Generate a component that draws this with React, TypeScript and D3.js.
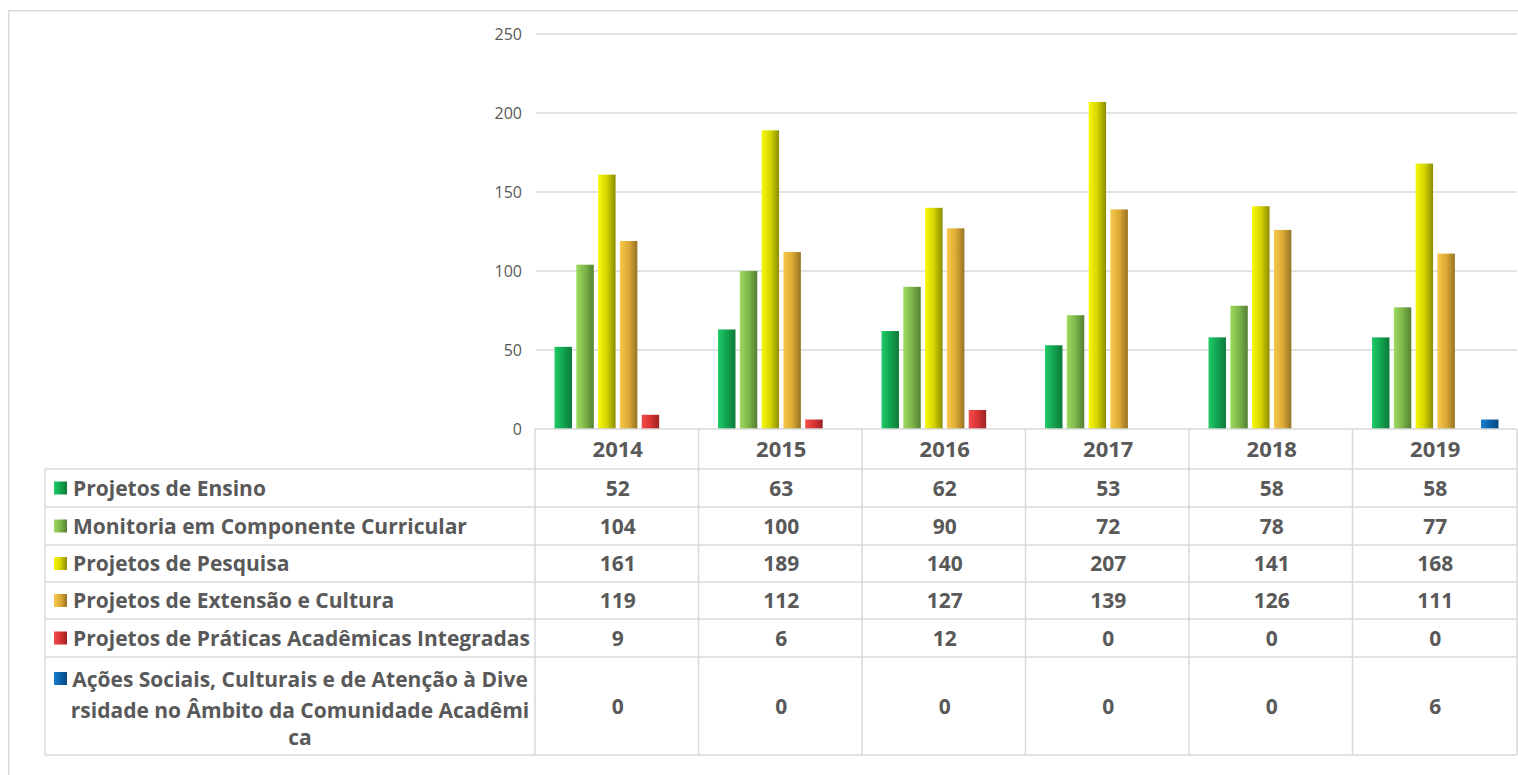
import React from "react";
import * as d3 from "d3";

// Anos e séries
const years = ["2014", "2015", "2016", "2017", "2018", "2019"];
const seriesNames = [
  "Projetos de Ensino",
  "Monitoria em Componente Curricular",
  "Projetos de Pesquisa",
  "Projetos de Extensão e Cultura",
  "Projetos de Práticas Acadêmicas Integradas",
  "Ações Sociais, Culturais e de Atenção à Diversidade no Âmbito da Comunidade Acadêmica",
];
const ensino = [52, 63, 62, 53, 58, 58];
const monitoria = [104, 100, 90, 72, 78, 77];
const pesquisa = [161, 189, 140, 207, 141, 168];
const extensao = [119, 112, 127, 139, 126, 111];
const praticas = [9, 6, 12, 0, 0, 0];
const acoes = [0, 0, 0, 0, 0, 6];
const yTicks = [0, 50, 100, 150, 200, 250];

// Linhas do rótulo da última série (quebra automática da célula)
const lastLabelLines = [
  "Ações Sociais, Culturais e de Atenção à Dive",
  "rsidade no Âmbito da Comunidade Acadêmi",
  "ca",
];

const seriesValues = [ensino, monitoria, pesquisa, extensao, praticas, acoes];
const gradients = [
  ["#1fcb66", "#12a34f", "#0d7a3b"],
  ["#9edb5f", "#7cb548", "#557f33"],
  ["#f8f80a", "#d4d400", "#8c8c00"],
  ["#f7c84a", "#ddaa35", "#977322"],
  ["#f44c4c", "#d93434", "#9c2222"],
  ["#1a7fd0", "#0a62aa", "#064680"],
];

const GRID = "#d9d9d9";
const TEXT = "#595959";
const FONT = "'Open Sans', Lato, sans-serif";

export default function App() {
  const W = 1518;
  const H = 775;
  const plotLeft = 536;
  const plotRight = 1517;
  const tableLeft = 45;

  const y = d3.scaleLinear().domain([0, 250]).range([429, 34]);
  const x = d3.scaleBand<string>().domain(years).range([plotLeft, plotRight]).padding(0);
  const xi = d3
    .scaleBand<number>()
    .domain(d3.range(seriesNames.length))
    .range([0, x.bandwidth()])
    .paddingInner(0.2)
    .paddingOuter(0.85);

  const headerTop = y(0);
  const rowBounds = [469, 507, 545, 582, 619, 657, 755];
  const cellFont = 21;

  return (
    <svg
      width={W}
      height={H}
      style={{ position: "absolute", left: 0, top: 0, background: "#fff" }}
      fontFamily={FONT}
    >
      <defs>
        {gradients.map((g, i) => (
          <linearGradient key={i} id={`grad${i}`} x1="0" x2="1" y1="0" y2="0">
            <stop offset="0%" stopColor={g[0]} />
            <stop offset="50%" stopColor={g[1]} />
            <stop offset="100%" stopColor={g[2]} />
          </linearGradient>
        ))}
      </defs>

      {/* moldura externa */}
      <rect x={8.75} y={10.75} width={W + 20} height={H + 20} fill="none" stroke={GRID} strokeWidth={1.5} />

      {/* grade horizontal e rótulos do eixo Y */}
      {yTicks.map((t) => (
        <g key={t}>
          {t > 0 && (
            <line x1={plotLeft} x2={plotRight} y1={y(t)} y2={y(t)} stroke={GRID} strokeWidth={1.5} />
          )}
          <text
            x={522}
            y={y(t)}
            textAnchor="end"
            dominantBaseline="central"
            fontSize={16}
            fill={TEXT}
          >
            {t}
          </text>
        </g>
      ))}

      {/* barras */}
      {seriesValues.map((vals, si) =>
        vals.map((v, yi) =>
          v > 0 ? (
            <rect
              key={`${si}-${yi}`}
              x={(x(years[yi]) as number) + (xi(si) as number)}
              y={y(v)}
              width={xi.bandwidth()}
              height={y(0) - y(v)}
              fill={`url(#grad${si})`}
            />
          ) : null
        )
      )}

      {/* tabela de dados */}
      <g stroke={GRID} strokeWidth={1.5} fill="none">
        <line x1={plotLeft - 1} x2={plotRight} y1={headerTop} y2={headerTop} />
        {rowBounds.map((r, i) => (
          <line key={i} x1={tableLeft} x2={plotRight} y1={r} y2={r} />
        ))}
        <line x1={tableLeft} x2={tableLeft} y1={rowBounds[0]} y2={rowBounds[rowBounds.length - 1]} />
        {years.map((yr) => (
          <line
            key={yr}
            x1={(x(yr) as number) - 1}
            x2={(x(yr) as number) - 1}
            y1={headerTop}
            y2={rowBounds[rowBounds.length - 1]}
          />
        ))}
        <line x1={plotRight} x2={plotRight} y1={headerTop} y2={rowBounds[rowBounds.length - 1]} />
      </g>

      {/* cabeçalho com os anos */}
      {years.map((yr) => (
        <text
          key={yr}
          x={(x(yr) as number) + x.bandwidth() / 2}
          y={(headerTop + rowBounds[0]) / 2 + 8}
          textAnchor="middle"
          fontSize={cellFont + 1}
          fontWeight="bold"
          fill={TEXT}
        >
          {yr}
        </text>
      ))}

      {/* linhas da tabela */}
      {seriesNames.map((name, si) => {
        const top = rowBounds[si];
        const bottom = rowBounds[si + 1];
        const mid = (top + bottom) / 2;
        const isLast = si === seriesNames.length - 1;
        return (
          <g key={name}>
            <rect
              x={54}
              y={isLast ? 672 : mid - 6.5}
              width={13}
              height={13}
              fill={`url(#grad${si})`}
            />
            {isLast ? (
              lastLabelLines.map((ln, li) => (
                <text
                  key={li}
                  x={300}
                  y={[687, 718, 745][li]}
                  textAnchor="middle"
                  fontSize={cellFont}
                  fontWeight="bold"
                  fill={TEXT}
                >
                  {ln}
                </text>
              ))
            ) : (
              <text x={73} y={mid + 7.5} fontSize={cellFont} fontWeight="bold" fill={TEXT}>
                {name}
              </text>
            )}
            {seriesValues[si].map((v, yi) => (
              <text
                key={yi}
                x={(x(years[yi]) as number) + x.bandwidth() / 2}
                y={mid + 7.5}
                textAnchor="middle"
                fontSize={cellFont}
                fontWeight="bold"
                fill={TEXT}
              >
                {v}
              </text>
            ))}
          </g>
        );
      })}
    </svg>
  );
}
